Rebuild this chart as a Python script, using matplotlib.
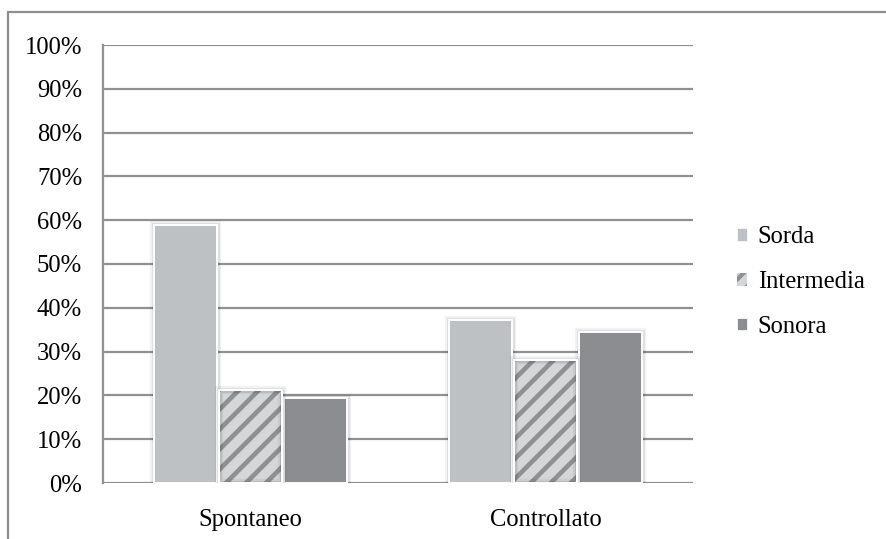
import matplotlib
matplotlib.use("Agg")
import matplotlib.pyplot as plt
import matplotlib.patheffects as pe
from matplotlib.patches import Patch, Rectangle
from matplotlib.lines import Line2D
from matplotlib.transforms import IdentityTransform
import numpy as np

# Data
categories = ["Spontaneo", "Controllato"]
series_names = ["Sorda", "Intermedia", "Sonora"]
sorda = [58.9, 37.3]
intermedia = [21.2, 28.1]
sonora = [19.5, 34.5]
y_ticks = list(range(0, 101, 10))
y_tick_labels = [f"{v}%" for v in y_ticks]

plt.rcParams["font.family"] = ["Liberation Serif", "DejaVu Serif"]
plt.rcParams["hatch.linewidth"] = 3.0

FS = 17.7

fig = plt.figure(figsize=(8.87, 5.39), dpi=100)
fig.patch.set_facecolor("white")

# Outer chart frame
frame = Rectangle((8 / 887, -0.05), 1.2, 1 - 12 / 539 + 0.05, transform=fig.transFigure,
                  fill=False, edgecolor="#8e8e8e", linewidth=1.6, zorder=0)
fig.patches.append(frame)

ax = fig.add_axes([103 / 887, (539 - 483) / 539, 590 / 887, 438 / 539])
ax.set_facecolor("none")

grid_color = "#8f9193"
for v in y_ticks:
    ax.axhline(v, color=grid_color, linewidth=1.6, zorder=1)

x = np.arange(len(categories))
width = 0.215
offset = 0.22

shadow = [pe.withStroke(linewidth=6, foreground=(0, 0, 0, 0.05)),
          pe.withStroke(linewidth=3.5, foreground=(0, 0, 0, 0.08)),
          pe.Normal()]

colors = {"Sorda": "#bec1c4", "Intermedia": "#d5d6d8", "Sonora": "#8b8d90"}
stripe = "#8e9093"

ax.set_xlim(-0.5, 1.5)
ax.set_ylim(0, 100)

b1 = ax.bar(x - offset, sorda, width, color=colors["Sorda"], edgecolor="white",
            linewidth=1.4, zorder=3)
b2 = ax.bar(x, intermedia, width, color=colors["Intermedia"], linewidth=0, zorder=3)
b2e = ax.bar(x, intermedia, width, fill=False, edgecolor="white", linewidth=1.4, zorder=5)
b3 = ax.bar(x + offset, sonora, width, color=colors["Sonora"], edgecolor="white",
            linewidth=1.4, zorder=3)
for bars in (b1, b3):
    for p in bars:
        p.set_path_effects(shadow)
for p in b2e:
    p.set_path_effects(shadow)

# Diagonal stripes inside the Intermedia bars (45 degrees in pixel space)
period = 20.0
for p in b2:
    x0, y0 = ax.transData.transform((p.get_x(), 0))
    x1, y1 = ax.transData.transform((p.get_x() + p.get_width(), p.get_height()))
    w, h = x1 - x0, y1 - y0
    clip = Rectangle((x0, y0), w, h, transform=IdentityTransform())
    c = x0 - h - period
    while c < x1 + period:
        ln = Line2D([c - period, c + h + 2 * period], [y0 - period, y0 + h + 2 * period],
                    color=stripe, linewidth=3.3, transform=IdentityTransform(),
                    solid_capstyle="butt", zorder=4)
        ax.add_line(ln)
        ln.set_clip_path(clip)
        c += period

ax.set_yticks(y_ticks)
ax.set_yticklabels(y_tick_labels)
ax.set_xticks(x)
ax.set_xticklabels(categories)
ax.tick_params(axis="y", length=0, pad=15, labelsize=FS)
ax.tick_params(axis="x", length=0, pad=19, labelsize=FS)
for s in ("top", "right", "bottom"):
    ax.spines[s].set_visible(False)
ax.spines["left"].set_color(grid_color)
ax.spines["left"].set_linewidth(1.6)
ax.spines["left"].set_zorder(2)

handles = [Patch(facecolor=colors["Sorda"], edgecolor="white", linewidth=0.5),
           Patch(facecolor=colors["Intermedia"], edgecolor=stripe, linewidth=0, hatch="//"),
           Patch(facecolor=colors["Sonora"], edgecolor="white", linewidth=0.5)]
leg = fig.legend(handles, series_names, loc="center left",
                 bbox_to_anchor=(737 / 887, (539 - 282) / 539),
                 frameon=False, fontsize=FS, handlelength=0.42, handleheight=0.42,
                 handletextpad=0.42, labelspacing=0.93, borderpad=0, borderaxespad=0)

fig.savefig("out.png", dpi=100, facecolor="white")
